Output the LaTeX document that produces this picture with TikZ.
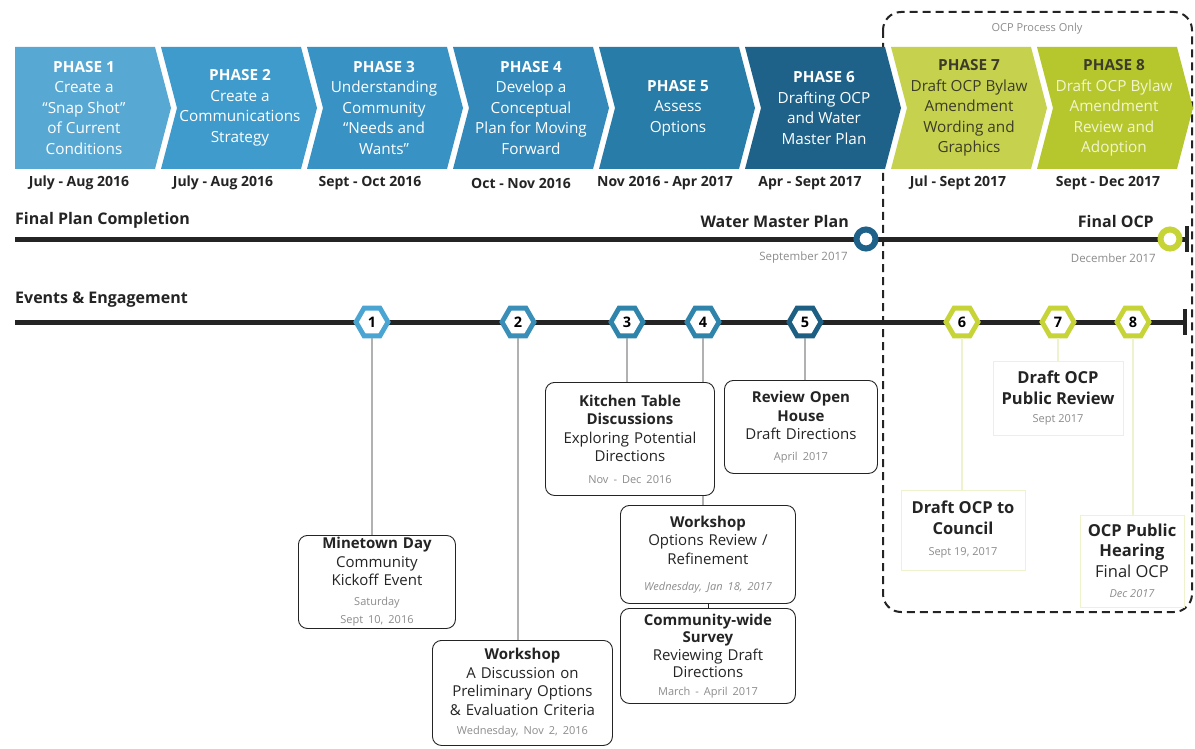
\documentclass[tikz,border=0pt]{standalone}
\usepackage{fontspec}
\setmainfont{Open Sans}
\usetikzlibrary{shapes.geometric}
\definecolor{p1}{RGB}{88,168,212}
\definecolor{p2}{RGB}{62,155,204}
\definecolor{p3}{RGB}{57,146,196}
\definecolor{p4}{RGB}{50,137,186}
\definecolor{p5}{RGB}{40,124,168}
\definecolor{p6}{RGB}{30,98,138}
\definecolor{p7}{RGB}{198,210,78}
\definecolor{p8}{RGB}{182,199,46}
\definecolor{ink}{RGB}{36,36,36}
\definecolor{faint}{RGB}{140,140,140}
\definecolor{lime}{RGB}{198,212,56}
\definecolor{palelime}{RGB}{238,242,205}
\definecolor{olive}{RGB}{60,60,40}
\definecolor{paletxt}{RGB}{242,245,205}
\definecolor{h1}{RGB}{74,165,211}
\definecolor{h2}{RGB}{58,143,185}
\definecolor{h3}{RGB}{47,132,171}
\definecolor{h5}{RGB}{29,95,130}
\newcommand\phasechev[3]{\fill[#2] (#1,47) -- ++(140,0) -- ++(16,61) -- ++(-16,61) -- ++(-140,0) -- ++(#3,-61) -- cycle;}
\newcommand\bt[1]{{\bfseries #1}}
\newcommand\fd[1]{{\fontsize{11}{13}\selectfont\color{faint}#1}}
\begin{document}
\begin{tikzpicture}[x=1pt,y=-1pt,
  phasetxt/.style={align=center, font=\fontsize{15.3}{20.5}\selectfont, text=white, inner sep=0pt},
  datetxt/.style={font=\fontsize{14}{14}\selectfont\bfseries, text=ink, inner sep=0pt},
  lbl/.style={font=\fontsize{16}{16}\selectfont\bfseries, text=ink, inner sep=0pt},
  subtxt/.style={font=\fontsize{11.5}{11.5}\selectfont, text=faint, inner sep=0pt},
  tl/.style={line width=5pt, draw=ink},
  ring/.style={circle, minimum size=19pt, inner sep=0pt, line width=6pt, fill=white},
  hexn/.style={regular polygon, regular polygon sides=6, minimum size=32pt, inner sep=0pt, line width=4.8pt, fill=white, font=\fontsize{14.5}{14.5}\selectfont\bfseries, text=black},
  evbox/.style={draw=ink, line width=0.9pt, rounded corners=9pt, fill=white, align=center, inner sep=2pt, font=\fontsize{15}{18.5}\selectfont, text=ink, anchor=north west},
  ocpbox/.style={draw=palelime, line width=1pt, fill=white, align=center, inner sep=4pt, font=\fontsize{16.5}{21}\selectfont, text=ink},
  conn/.style={line width=0.9pt, draw=ink},
  lconn/.style={line width=1.3pt, draw=palelime},
]
\fill[white] (0,0) rectangle (1195,749);
\useasboundingbox (0,0) rectangle (1195,749);

% OCP process dashed frame
\draw[ink, line width=2pt, dash pattern=on 8pt off 5pt, rounded corners=18pt] (883,12) rectangle (1192,612);
\node[font=\fontsize{11}{11}\selectfont, text=faint] (opo) at (1037,29) {OCP Process Only};

% phase chevrons
\phasechev{15}{p1}{0}
\phasechev{161}{p2}{16}
\phasechev{307}{p3}{16}
\phasechev{453}{p4}{16}
\phasechev{599}{p5}{16}
\phasechev{745}{p6}{16}
\phasechev{891}{p7}{16}
\phasechev{1037}{p8}{16}

\node[phasetxt] (ph1) at (84,108) {\bt{PHASE 1}\\Create a\\“Snap Shot”\\of Current\\Conditions};
\node[phasetxt] (ph2) at (240,108) {\bt{PHASE 2}\\Create a\\Communications\\Strategy};
\node[phasetxt] (ph3) at (384,108) {\bt{PHASE 3}\\Understanding\\Community\\“Needs and\\Wants”};
\node[phasetxt] (ph4) at (531,108) {\bt{PHASE 4}\\Develop a\\Conceptual\\Plan for Moving\\Forward};
\node[phasetxt] (ph5) at (678,108) {\bt{PHASE 5}\\Assess\\Options};
\node[phasetxt] (ph6) at (824,108) {\bt{PHASE 6}\\Drafting OCP\\and Water\\Master Plan};
\node[phasetxt, text=olive] (ph7) at (969,108) {\bt{PHASE 7}\\Draft OCP Bylaw\\Amendment\\Wording and\\Graphics};
\node[phasetxt, text=paletxt] (ph8) at (1114,108) {\textcolor{olive}{\bt{PHASE 8}}\\Draft OCP Bylaw\\Amendment\\Review and\\Adoption};

% dates
\node[datetxt] (d1) at (79,183) {July - Aug 2016};
\node[datetxt] (d2) at (223,183) {July - Aug 2016};
\node[datetxt] (d3) at (370,183) {Sept - Oct 2016};
\node[datetxt] (d4) at (521,183) {Oct - Nov 2016};
\node[datetxt] (d5) at (665,183) {Nov 2016 - Apr 2017};
\node[datetxt] (d6) at (810,183) {Apr - Sept 2017};
\node[datetxt] (d7) at (958,183) {Jul - Sept 2017};
\node[datetxt] (d8) at (1108,183) {Sept - Dec 2017};

% final plan completion line
\node[lbl, anchor=west] (fpc) at (15,220) {Final Plan Completion};
\coordinate (l1a) at (15,239);
\coordinate (l1b) at (1187,239);
\draw[tl] (l1a) -- (l1b);
\draw[ink, line width=4pt] (1187,226) -- (1187,252);
\node[ring, draw=p6] (wmp) at (866,239) {};
\node[ring, draw=lime] (focp) at (1170,239) {};
\node[lbl, anchor=east] (wmpl) at (849,221) {Water Master Plan};
\node[subtxt, anchor=east] (wmpd) at (848,258) {September 2017};
\node[lbl, anchor=east] (focpl) at (1154,221) {Final OCP};
\node[subtxt, anchor=east] (focpd) at (1156,258) {December 2017};

% events line
\node[lbl, anchor=west] (ee) at (15,300) {Events \& Engagement};
\coordinate (l2a) at (15,322);
\coordinate (l2b) at (1185,322);
\draw[tl] (l2a) -- (l2b);
\draw[ink, line width=4pt] (1185,309) -- (1185,335);

\node[hexn, draw=h1] (e1) at (372,322) {1};
\node[hexn, draw=h2] (e2) at (518,322) {2};
\node[hexn, draw=h3] (e3) at (627,322) {3};
\node[hexn, draw=h3] (e4) at (703,322) {4};
\node[hexn, draw=h5] (e5) at (805,322) {5};
\node[hexn, draw=lime] (e6) at (962,322) {6};
\node[hexn, draw=lime] (e7) at (1058,322) {7};
\node[hexn, draw=lime] (e8) at (1133,322) {8};

% coordinates for box tops
\coordinate (mtT) at (372,535);
\coordinate (wsT) at (518,640);
\coordinate (ktT) at (627,382);
\coordinate (opT) at (703,505);
\coordinate (roT) at (805,380);

% connectors (behind the boxes)
\draw[conn] (e1.south) -- (mtT);
\draw[conn] (e2.south) -- (wsT);
\draw[conn] (e3.south) -- (ktT);
\draw[conn] (e4.south) -- (opT);
\draw[conn] (e5.south) -- (roT);

% event boxes
\node[evbox, minimum width=157pt, minimum height=92pt, text width=152pt] (mt) at (298,535)
  {\bt{Minetown Day}\\Community\\Kickoff Event\\[1pt]\fd{Saturday}\\\fd{Sept 10, 2016}};
\node[evbox, minimum width=180pt, minimum height=105pt, text width=176pt] (ws) at (432,640)
  {\bt{Workshop}\\A Discussion on\\Preliminary Options\\\& Evaluation Criteria\\[1pt]\fd{Wednesday, Nov 2, 2016}};
\node[evbox, minimum width=169pt, minimum height=113pt, text width=165pt] (kt) at (545,382)
  {\bt{Kitchen Table}\\\bt{Discussions}\\Exploring Potential\\Directions\\[3pt]\fd{Nov - Dec 2016}};
\node[evbox, minimum width=175pt, minimum height=98pt, text width=171pt] (op) at (620,505)
  {\bt{Workshop}\\Options Review /\\Refinement\\[8pt]\fd{\itshape Wednesday, Jan 18, 2017}};
\node[evbox, minimum width=175pt, minimum height=95pt, text width=171pt, font=\fontsize{15}{17.5}\selectfont] (sv) at (620,608)
  {\bt{Community-wide}\\\bt{Survey}\\Reviewing Draft\\Directions\\\fd{March - April 2017}};
\node[evbox, minimum width=153pt, minimum height=93pt, text width=149pt] (ro) at (724,380)
  {\bt{Review Open}\\\bt{House}\\Draft Directions\\[2pt]\fd{April 2017}};
\draw[conn] (op.south) -- (sv.north);

% OCP events
\node[ocpbox, minimum width=130pt, minimum height=74pt] (pr) at (1058,398)
  {\bt{Draft OCP}\\\bt{Public Review}\\[-3pt]\fd{Sept 2017}};
\node[ocpbox, minimum width=124pt, minimum height=80pt] (dc) at (963,530)
  {\bt{Draft OCP to}\\\bt{Council}\\\fd{Sept 19, 2017}};
\node[ocpbox, minimum width=104pt, minimum height=92pt, font=\fontsize{16.5}{20.5}\selectfont] (ph) at (1132,561)
  {\bt{OCP Public}\\\bt{Hearing}\\Final OCP\\\fd{\itshape Dec 2017}};
\draw[lconn] (e6.south) -- (e6.south |- dc.north);
\draw[lconn] (e7.south) -- (e7.south |- pr.north);
\draw[lconn] (e8.south) -- (e8.south |- ph.north);
\end{tikzpicture}
\end{document}
